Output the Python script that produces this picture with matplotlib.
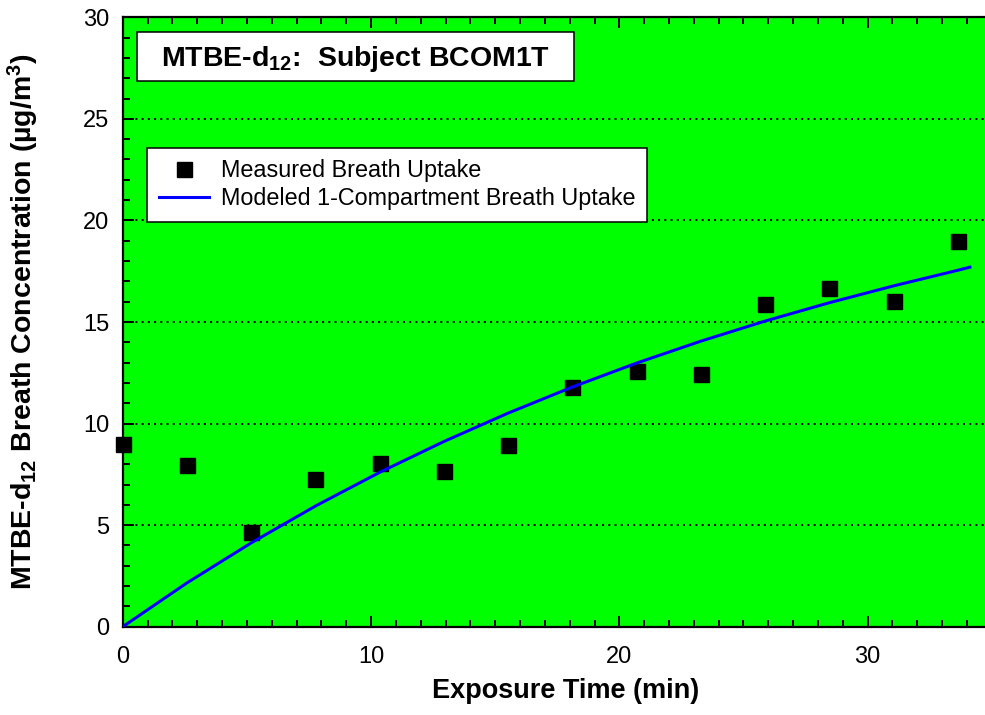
import matplotlib
matplotlib.use("Agg")
import matplotlib.pyplot as plt
from matplotlib.patches import Rectangle
from matplotlib.ticker import MultipleLocator

plt.rcParams['font.family'] = ['Liberation Sans', 'DejaVu Sans']
plt.rcParams['mathtext.fontset'] = 'custom'
plt.rcParams['mathtext.rm'] = 'Liberation Sans'
plt.rcParams['mathtext.bf'] = 'Liberation Sans:bold'
plt.rcParams['mathtext.it'] = 'Liberation Sans:italic'

# Measured breath concentrations (ug/m3) versus exposure time (min)
measured_time = [0.0, 2.59, 5.18, 7.76, 10.35, 12.94, 15.53, 18.11,
                 20.70, 23.29, 25.88, 28.46, 31.05, 33.64]
measured_conc = [9.01, 7.96, 4.65, 7.26, 8.04, 7.68, 8.96, 11.80,
                 12.60, 12.43, 15.87, 16.66, 16.05, 19.00]

# One-compartment model curve
model_time = [0.0, 2.59, 5.18, 7.76, 10.35, 12.94, 15.53, 18.11,
              20.70, 23.29, 25.88, 28.46, 31.05, 33.64, 34.12]
model_conc = [0.0, 2.16, 4.13, 5.94, 7.60, 9.12, 10.52, 11.80,
              12.98, 14.06, 15.05, 15.95, 16.78, 17.55, 17.70]

x_limits = (0, 35)
y_limits = (0, 30)

fig = plt.figure(figsize=(9.85, 7.15), dpi=100)
ax = fig.add_axes([0.1246, 0.1235, 0.8823, 0.8523])
ax.set_facecolor('#00FF00')

ax.plot(measured_time, measured_conc, linestyle='none', marker='s',
        markersize=10.8, color='black', clip_on=False, zorder=3,
        label='Measured Breath Uptake')
ax.plot(model_time, model_conc, color='#0000FF', linewidth=2.2, zorder=4,
        label='Modeled 1-Compartment Breath Uptake')

ax.set_xlim(*x_limits)
ax.set_ylim(*y_limits)
ax.xaxis.set_major_locator(MultipleLocator(10))
ax.xaxis.set_minor_locator(MultipleLocator(1))
ax.yaxis.set_major_locator(MultipleLocator(5))
ax.yaxis.set_minor_locator(MultipleLocator(1))

ax.yaxis.grid(True, which='major', color='black', linestyle=(0, (1, 2.2)),
              linewidth=1.4, zorder=1)
ax.set_axisbelow(True)

ax.tick_params(axis='both', which='both', direction='in', color='black',
               width=1.4, labelsize=17, top=True, right=False)
ax.tick_params(axis='both', which='major', length=8)
ax.tick_params(axis='both', which='minor', length=5)
ax.tick_params(axis='x', which='major', pad=14)
ax.tick_params(axis='y', which='major', pad=9.5)

for side in ('left', 'top', 'bottom'):
    ax.spines[side].set_linewidth(1.6)
    ax.spines[side].set_color('black')
ax.spines['right'].set_visible(False)

ax.set_xlabel('Exposure Time (min)', fontsize=19.5, fontweight='bold')
ax.xaxis.set_label_coords(0.5095, -0.084)
ax.set_ylabel(r'MTBE-d$_{\mathbf{12}}$ Breath Concentration (µg/m$^{\mathbf{3}}$)',
              fontsize=20.5, fontweight='bold')
ax.yaxis.set_label_coords(-0.094, 0.5)

# Title box
ax.add_patch(Rectangle((0.01645, 0.8955), 0.5028, 0.0809,
                       transform=ax.transAxes, facecolor='white',
                       edgecolor='black', linewidth=1.1, zorder=5))
ax.text(0.2679, 0.931, r'MTBE-d$_{\mathbf{12}}$:  Subject BCOM1T',
        transform=ax.transAxes, ha='center', va='center',
        fontsize=20.5, fontweight='bold', zorder=6)

leg = ax.legend(loc='upper left', bbox_to_anchor=(0.028, 0.786, 0.5753, 0.0),
                mode='expand', fontsize=16.8, frameon=True, fancybox=False,
                framealpha=1, edgecolor='black', borderpad=0.5,
                labelspacing=0.2, handlelength=2.15, handletextpad=0.5,
                borderaxespad=0.0, markerscale=1.0)
leg.get_frame().set_linewidth(1.1)
leg.set_zorder(6)

fig.savefig('out.png', dpi=100)
